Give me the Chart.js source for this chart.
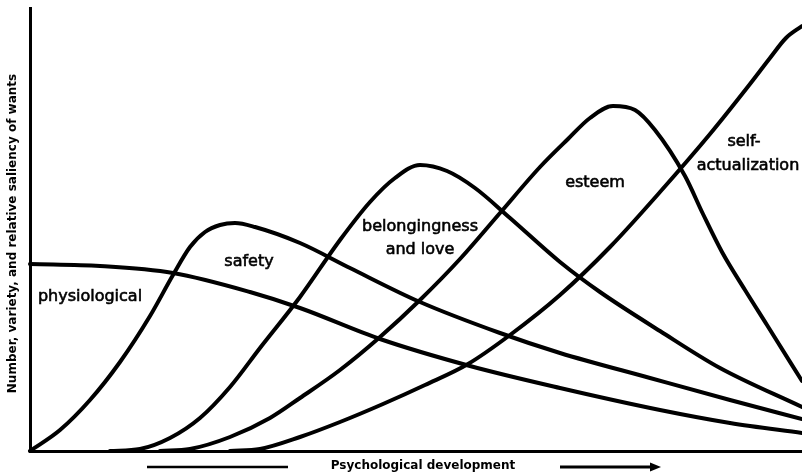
<!DOCTYPE html>
<html><head><meta charset="utf-8">
<style>html,body{margin:0;padding:0;background:#fff;overflow:hidden;} #wrap{width:802px;height:473px;position:relative;}</style>
<script src="https://cdn.jsdelivr.net/npm/chart.js@4/dist/chart.umd.min.js"></script>
</head><body><div id="wrap"><canvas id="c" width="802" height="473"></canvas></div>
<script>
// Psychological development (x) vs number/variety/saliency of wants (y), arbitrary units
const physX = [0,70,143,220,270,350,440,530,630,700,772];
const physY = [187,185,178,159,143,112,85,63,41,28,18];

const safeX = [0,30,60,90,120,143,160,175,190,205,225,270,320,390,470,530,620,700,772];
const safeY = [0,21,51,89,135,176,204,219,226,228,224,208,183,149,118,98,73,51,32];

const belX = [80,110,140,170,200,230,270,310,340,365,390,417,445,480,530,570,630,690,772];
const belY = [0,2,13,33,64,103,154,211,249,273,286,280,263,233,189,159,120,83,44];

const estX = [130,160,200,240,270,310,350,390,430,470,510,538,560,583,605,625,655,673,692,715,737,772];
const estY = [0,2,14,33,53,81,114,151,192,238,284,312,333,345,341,321,275,237,199,161,126,70];

const selfX = [200,230,270,310,353,395,438,480,530,580,630,680,720,740,756,772];
const selfY = [0,2,14,29,47,66,87,116,156,204,259,317,367,393,413,425];

const seriesNames = ['physiological','safety','belongingness and love','esteem','self-actualization'];
const seriesX = [physX, safeX, belX, estX, selfX];
const seriesY = [physY, safeY, belY, estY, selfY];

// curve labels (text lines placed at data coordinates)
const labelText = ['physiological','safety','belongingness','and love','esteem','self-','actualization'];
const labelX = [60,219,390,390,565,714,718];
const labelY = [154,189,224,201,268,309,285];

const yTitle = 'Number, variety, and relative saliency of wants';
const xTitle = 'Psychological development';

const deco = {
  id:'deco',
  afterDraw(chart){
    const ctx = chart.ctx, xs = chart.scales.x, ys = chart.scales.y, ca = chart.chartArea;
    ctx.save();
    ctx.fillStyle = '#000';
    ctx.strokeStyle = '#000';
    ctx.textAlign = 'center';
    ctx.textBaseline = 'middle';
    ctx.font = '16px "DejaVu Sans"';
    ctx.lineWidth = 0.6;
    labelText.forEach((t,i)=>{
      const px = xs.getPixelForValue(labelX[i]), py = ys.getPixelForValue(labelY[i]);
      ctx.fillText(t, px, py);
      ctx.strokeText(t, px, py);
    });
    // y title
    ctx.save();
    ctx.translate(ca.left - 17, (ca.top + ca.bottom)/2 + 4);
    ctx.rotate(-Math.PI/2);
    ctx.font = 'bold 12px "DejaVu Sans"';
    ctx.fillText(yTitle, 0, 0);
    ctx.restore();
    // x title and arrow
    const ty = ca.bottom + 15;
    ctx.font = 'bold 12px "DejaVu Sans"';
    ctx.fillText(xTitle, 423, ty);
    ctx.lineWidth = 2.5;
    ctx.beginPath(); ctx.moveTo(147, ty+1); ctx.lineTo(288, ty+1); ctx.stroke();
    ctx.lineWidth = 3;
    ctx.beginPath(); ctx.moveTo(560, ty+1); ctx.lineTo(652, ty+1); ctx.stroke();
    ctx.beginPath(); ctx.moveTo(661, ty+1); ctx.lineTo(650, ty-3.5); ctx.lineTo(650, ty+5.5); ctx.closePath(); ctx.fill();
    ctx.restore();
  }
};

new Chart(document.getElementById('c').getContext('2d'), {
  type:'scatter',
  data:{datasets: seriesNames.map((n,k)=>({
    label:n,
    data: seriesX[k].map((v,i)=>({x:v, y:seriesY[k][i]})),
    showLine:true, borderColor:'#000', backgroundColor:'#000', borderWidth:4,
    pointRadius:0, pointHoverRadius:0, cubicInterpolationMode:'monotone',
    borderCapStyle:'round', borderJoinStyle:'round', fill:false, clip:false
  }))},
  options:{
    responsive:false, animation:false, devicePixelRatio:1,
    layout:{padding:{left:30,right:0,top:8,bottom:22}},
    plugins:{legend:{display:false}, tooltip:{enabled:false}},
    scales:{
      x:{type:'linear', min:0, max:772, ticks:{display:false}, grid:{display:false, drawTicks:false}, border:{display:true, color:'#000', width:3}},
      y:{type:'linear', min:0, max:443, ticks:{display:false}, grid:{display:false, drawTicks:false}, border:{display:true, color:'#000', width:3}}
    }
  },
  plugins:[deco]
});
</script></body></html>
